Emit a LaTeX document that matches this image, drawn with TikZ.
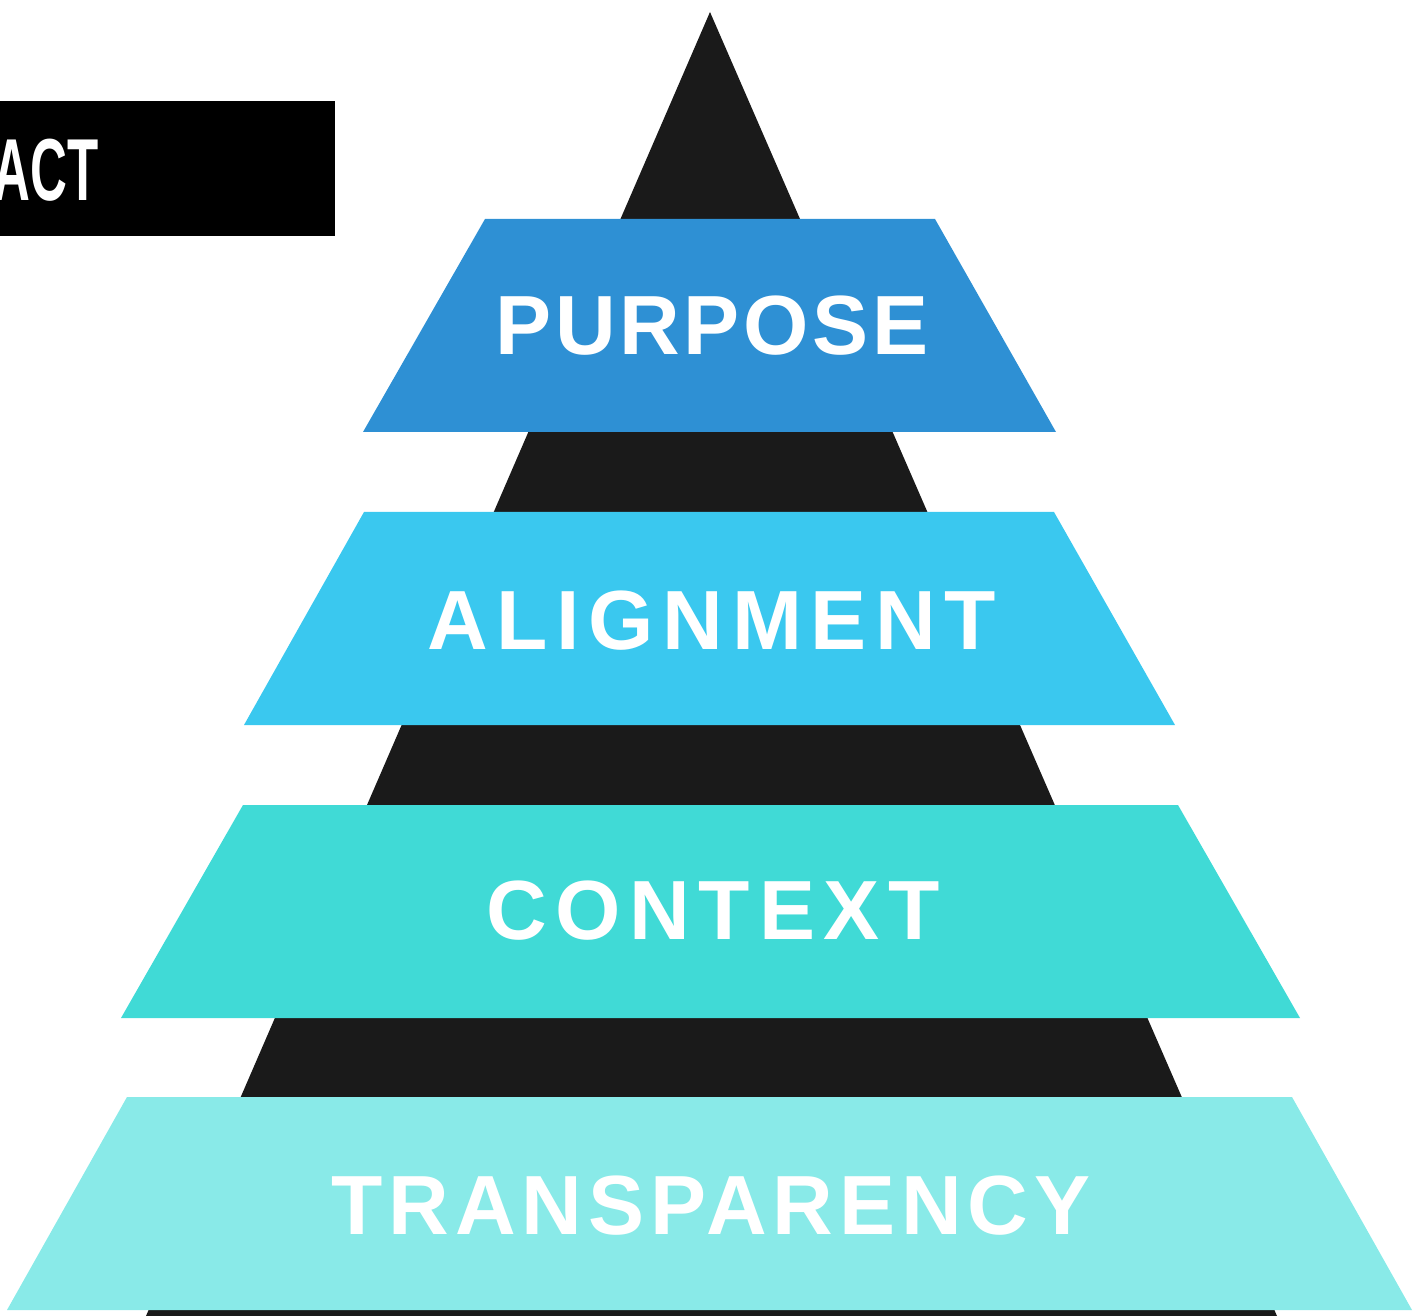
\documentclass[tikz,border=0pt]{standalone}
\usepackage{xcolor}
\usepackage{fontspec}
\usepackage{tikz}
\newfontfamily\bandfont[LetterSpace=7]{Liberation Sans}
\newfontfamily\actfont{Liberation Sans}
\definecolor{pyramidblack}{HTML}{1A1A1A}
\definecolor{purposeblue}{HTML}{2E90D4}
\definecolor{alignblue}{HTML}{3AC8EF}
\definecolor{contextteal}{HTML}{40DAD6}
\definecolor{transpteal}{HTML}{89EAE8}
\tikzset{bandlabel/.style={text=white, inner sep=0,
    font=\bandfont\bfseries\fontsize{42}{42}\selectfont}}
\tikzset{actlabel/.style={text=white, inner sep=0, anchor=base east,
    font=\actfont\bfseries\fontsize{44}{44}\selectfont}}
\newcommand\spaced[2]{\addfontfeature{LetterSpace=#1}#2}

\begin{document}
\begin{tikzpicture}[x=0.5pt, y=-0.5pt]
  \useasboundingbox (0,0) rectangle (1421,1316);
  %%%%% black box, top left
  \path[fill=black] (0,101) to (335,101) to (335,236) to (0,236) to cycle;
  \node[actlabel] (act) at (99,201) {\scalebox{0.58}[1]{ACT}};
  %%%%% pyramid
  \path[fill=pyramidblack] (710,12) to (1277,1316) to (146,1316) to cycle;
  %%%%% bands
  \path[fill=purposeblue] (485,219) to (935,219) to (1056,432) to
    (363,432) to cycle;
  \path[fill=alignblue] (364,512) to (1054,512) to (1175,725) to
    (244,725) to cycle;
  \path[fill=contextteal] (243,805) to (1178,805) to (1300,1018) to
    (121,1018) to cycle;
  \path[fill=transpteal] (127,1097) to (1292,1097) to (1412,1310) to
    (7,1310) to cycle;
  %% band names
  \node[bandlabel] (purpose) at (712,326) {\spaced{4.4}{PURPOSE}};
  \node[bandlabel] (alignment) at (712,621) {\spaced{10.3}{ALIGNMENT}};
  \node[bandlabel] (context) at (713,911) {\spaced{10.4}{CONTEXT}};
  \node[bandlabel] (transparency) at (711,1206) {TRANSPARENCY};
\end{tikzpicture}
\end{document}
